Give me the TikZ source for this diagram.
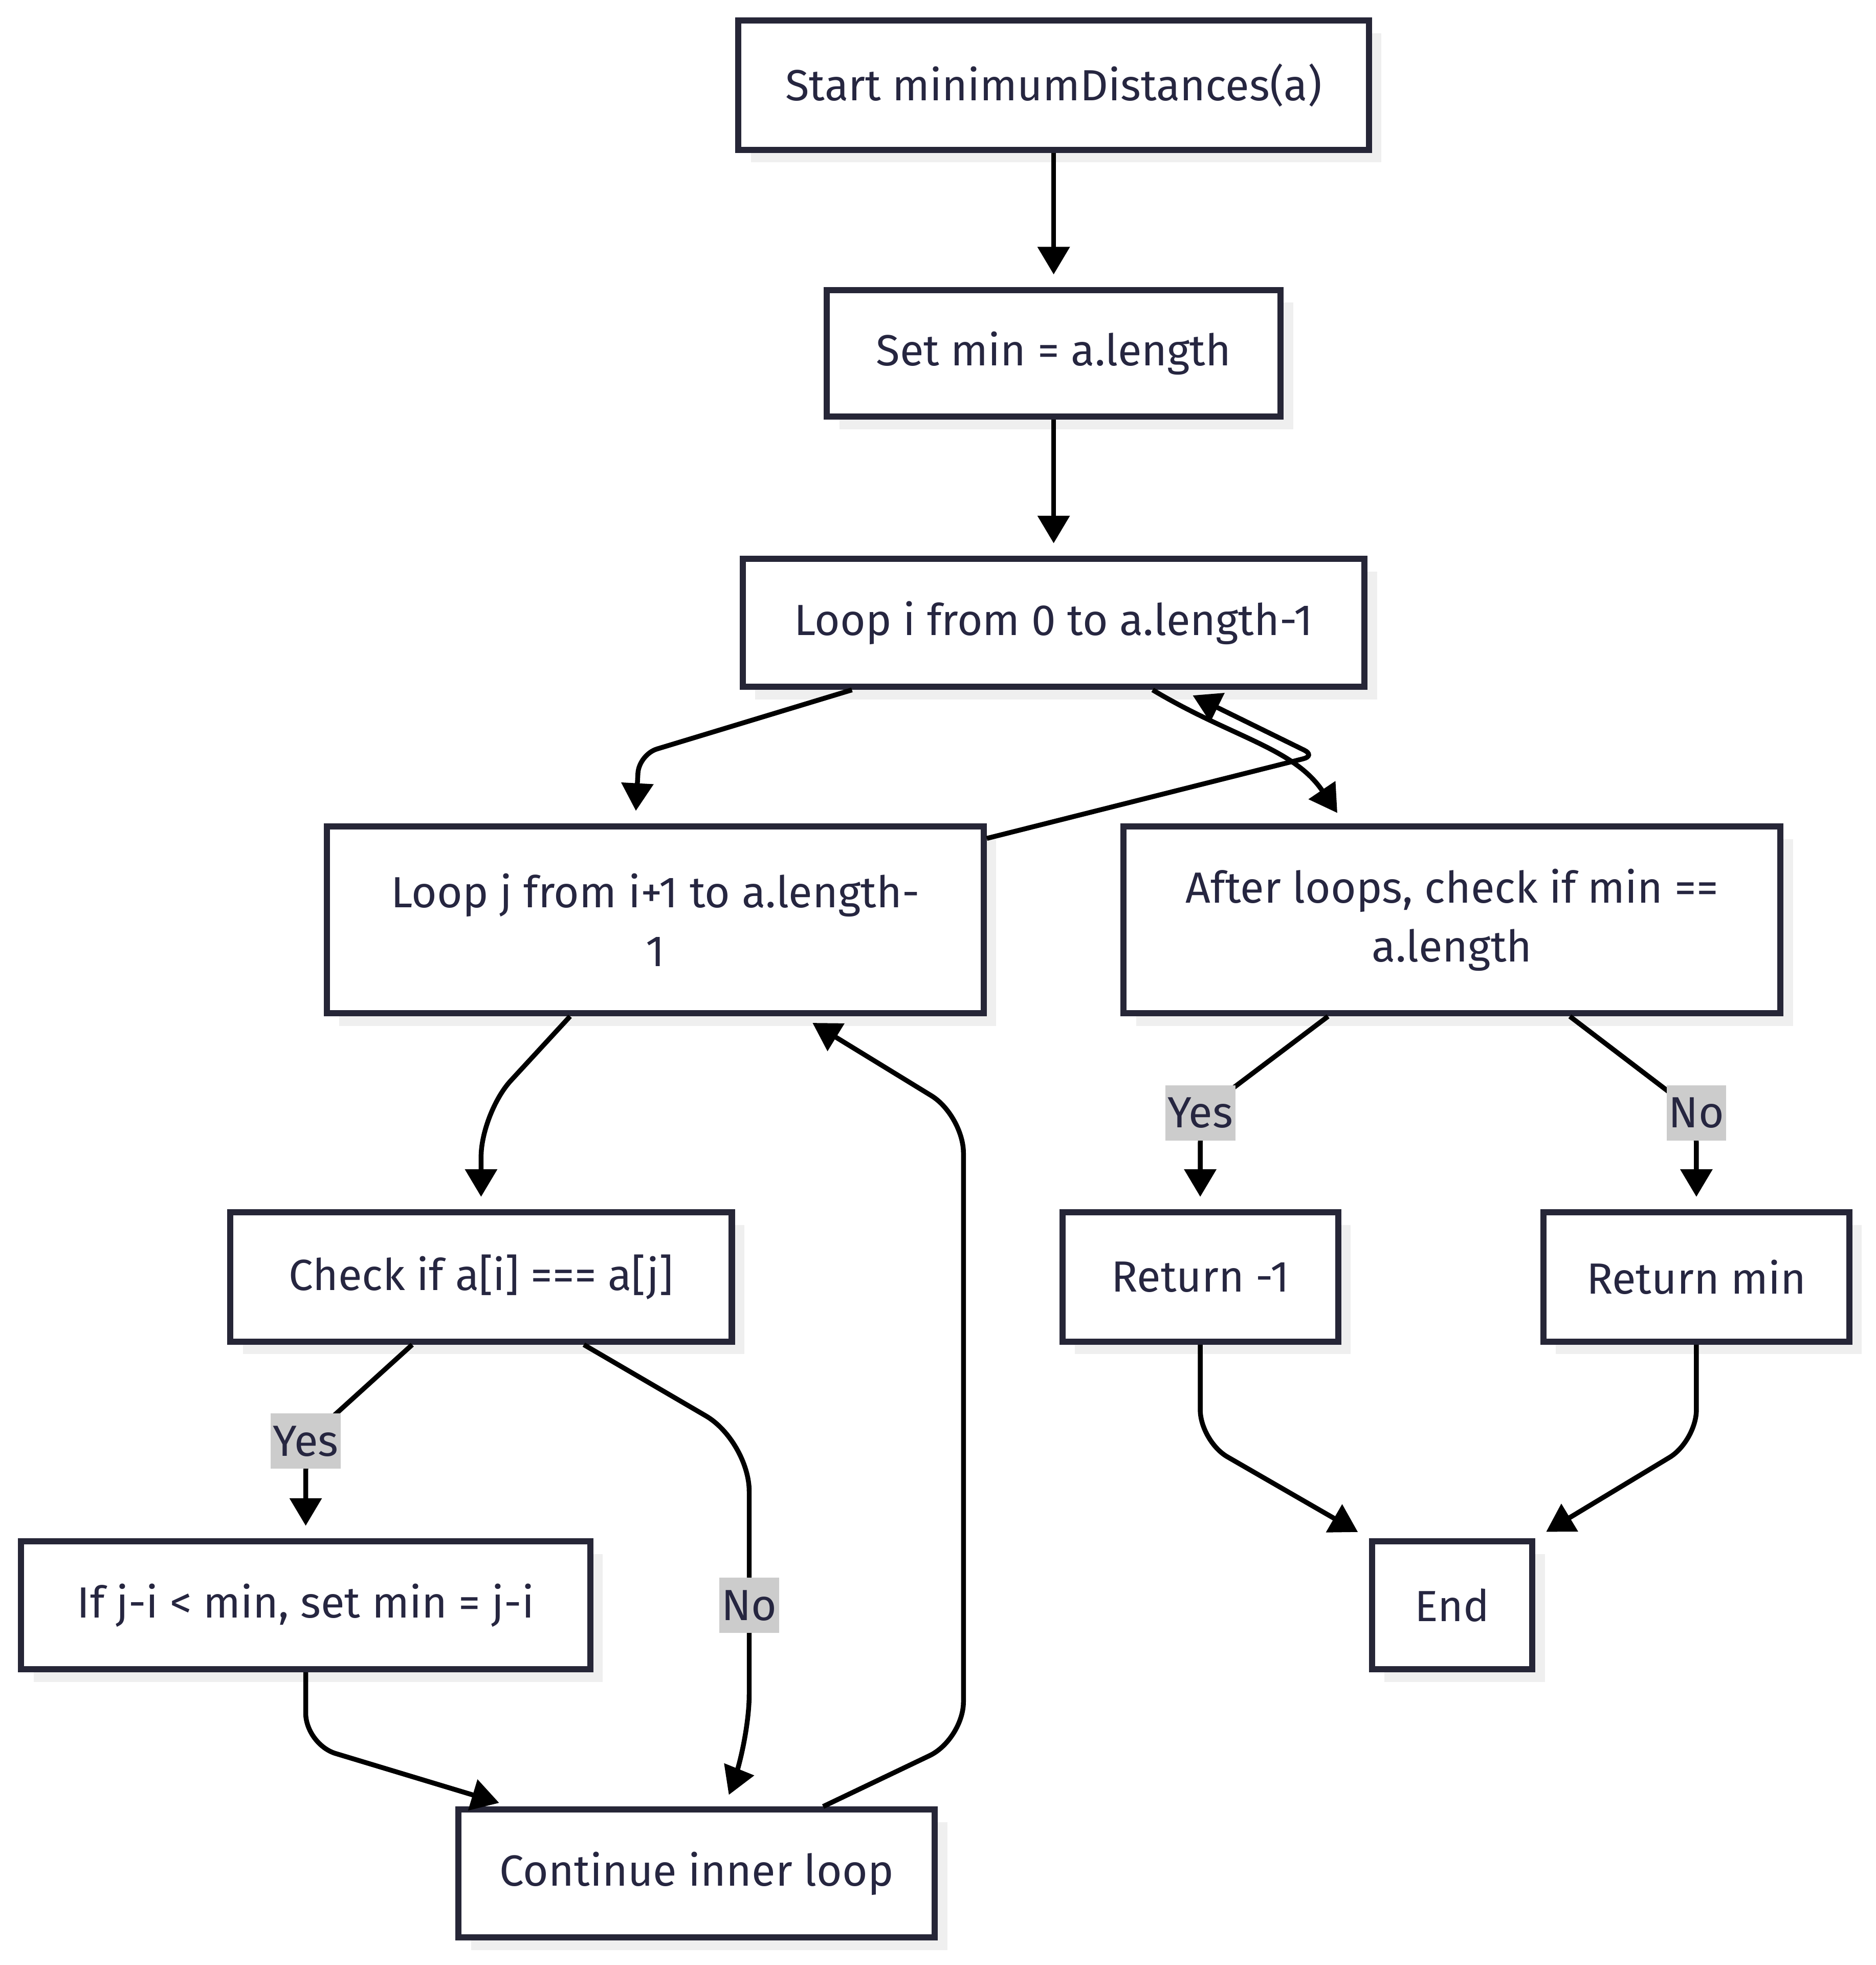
\documentclass[tikz,border=0pt]{standalone}
\usepackage{fontspec}
\setmainfont{Fira Sans}
\usetikzlibrary{arrows.meta,shadows}
\definecolor{boxline}{HTML}{262637}
\definecolor{textcol}{HTML}{262640}
\definecolor{shadowgray}{HTML}{EFEFEF}
\definecolor{labelgray}{HTML}{CCCCCC}
\begin{document}
\begin{tikzpicture}[x=0.01cm, y=-0.01cm,
    box/.style={draw=boxline, line width=1.4pt, fill=white, text=textcol, align=center,
        inner sep=0pt, font=\fontsize{9.9pt}{13.4pt}\selectfont,
        drop shadow={shadow xshift=0.1cm, shadow yshift=-0.1cm, fill=shadowgray, opacity=1}},
    lbl/.style={sharp corners, fill=labelgray, text=textcol, inner xsep=0.5pt, inner ysep=0pt,
        minimum height=0.44cm, font=\fontsize{9.9pt}{13.4pt}\selectfont},
    flow/.style={draw=black, line width=1.1pt, -{Triangle[length=0.22cm,width=0.25cm]},
        shorten >=0.1cm, rounded corners=0.25cm}
]
\useasboundingbox (0,0) rectangle (1497,1568);

% Blocchi
\node[box, minimum width=5.03cm, minimum height=1.03cm] (start) at (841,68) {Start minimumDistances(a)};
\node[box, minimum width=3.62cm, minimum height=1.01cm] (setmin) at (841,282) {Set min = a.length};
\node[box, minimum width=4.96cm, minimum height=1.02cm] (loopi) at (841,497) {Loop i from 0 to a.length-1};
\node[box, minimum width=5.24cm, minimum height=1.49cm] (loopj) at (523,734) {Loop j from i+1 to a.length-\\1};
\node[box, minimum width=5.24cm, minimum height=1.49cm] (after) at (1159,734) {After loops, check if min ==\\a.length};
\node[box, minimum width=4.00cm, minimum height=1.03cm] (check) at (384,1019) {Check if a[i] === a[j]};
\node[box, minimum width=2.20cm, minimum height=1.03cm] (retneg) at (958,1019) {Return -1};
\node[box, minimum width=2.44cm, minimum height=1.03cm] (retmin) at (1354,1019) {Return min};
\node[box, minimum width=4.54cm, minimum height=1.02cm] (update) at (244,1281) {If j-i < min, set min = j-i};
\node[box, minimum width=1.28cm, minimum height=1.02cm] (endn) at (1159,1281) {End};
\node[box, minimum width=3.80cm, minimum height=1.02cm] (cont) at (556,1495) {Continue inner loop};

% Frecce
\draw[flow] (start) -- (setmin);
\draw[flow] (setmin) -- (loopi);
\draw[flow, rounded corners=0.15cm] (680,0 |- loopi.south) -- (510,602) -- (507,0 |- loopj.north);
\draw[flow] (920,0 |- loopi.south) to[out=-31,in=124] (1073,0 |- after.north);
\draw[flow, rounded corners=0.1cm] (loopj.east |- 0,669) -- (1050,603) -- (943,0 |- loopi.south);
\draw[flow, rounded corners=0.35cm] (455,0 |- loopj.south) -- (384,888) -- (check);
\draw[flow] (329,0 |- check.south) -- (244,1150) node[lbl] (yesa) {Yes} -- (update);
\draw[flow, rounded corners=0.4cm] (466,0 |- check.south) -- (598,1150) -- (598,1281) node[lbl] (noa) {No} -- (598,1392) -- (578,0 |- cont.north);
\draw[flow] (update) -- (244,1392) -- (408,0 |- cont.north);
\draw[flow, rounded corners=0.3cm] (657,0 |- cont.north) -- (769,1388) -- (769,890) -- (640,0 |- loopj.south);
\draw[flow] (1060,0 |- after.south) -- (958,888) node[lbl] (yesb) {Yes} -- (retneg);
\draw[flow] (1253,0 |- after.south) -- (1354,888) node[lbl] (nob) {No} -- (retmin);
\draw[flow] (retneg) -- (958,1150) -- (endn.north west);
\draw[flow] (retmin) -- (1354,1150) -- (endn.north east);
\end{tikzpicture}
\end{document}
